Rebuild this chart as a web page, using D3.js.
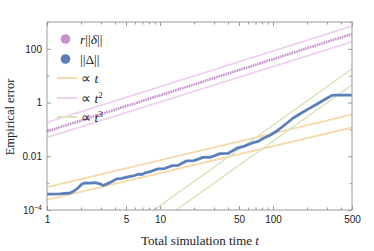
<!DOCTYPE html>
<html>
<head>
<meta charset="utf-8">
<script src="https://cdn.jsdelivr.net/npm/d3@7"></script>
<style>
  body { margin: 0; background: #fff; }
  svg { display: block; }
  .tick text { font-family: "Liberation Sans", Arial, sans-serif; font-size: 10px; fill: #222; }
  .serif { font-family: "Liberation Serif", "Times New Roman", serif; fill: #222; }
</style>
</head>
<body>
<svg width="374" height="251"></svg>
<script>
// total simulation time t and the two measured errors
const blueT = [1, 1.3, 1.6, 1.75, 1.88, 2.04, 2.2, 2.4, 2.65, 2.94, 3.13, 3.4, 3.76, 4.16, 4.6,
  5.21, 5.8, 6.39, 6.9, 7.37, 8.2, 9.6, 11, 12.8, 14.5, 17.3, 20, 24, 28, 34, 40, 48, 56,
  66.5, 74, 81.6, 95, 108, 125, 150, 180, 212, 250, 300, 333, 360, 500];
const blueErr = [3.9e-4, 4.0e-4, 4.3e-4, 5.2e-4, 6.6e-4, 9.3e-4, 1.02e-3, 1.0e-3, 1.04e-3, 9.4e-4,
  8.2e-4, 9.4e-4, 1.15e-3, 1.45e-3, 1.5e-3, 1.7e-3, 1.85e-3, 2.15e-3, 2.1e-3, 2.4e-3, 2.7e-3,
  3.4e-3, 3.5e-3, 4.5e-3, 4.6e-3, 6.8e-3, 6.9e-3, 9.1e-3, 9.2e-3, 0.0125, 0.0128, 0.020, 0.024,
  0.032, 0.036, 0.046, 0.062, 0.087, 0.14, 0.26, 0.42, 0.62, 0.93, 1.45, 1.85, 1.9, 1.9];

const pinkT = [1, 1.5, 2, 3, 4, 5, 6, 8, 10, 13, 16, 20, 25, 30, 40, 50, 65, 80, 100, 130,
  160, 200, 250, 300, 400, 500];
const pinkErr = [0.084, 0.148, 0.212, 0.372, 0.54, 0.74, 0.93, 1.39, 1.86, 2.67, 3.49, 4.76,
  6.35, 8.25, 12.0, 16.4, 23.0, 30.8, 41.0, 59.2, 77.0, 106, 141, 182, 265, 360];

// power-law guides, values at t = 1 and t = 500
const guideT = [1, 500];
const orangeGuides = [[7.1e-4, 0.355], [2.36e-4, 0.118]];
const pinkGuides = [[0.182, 708], [0.050, 183]];
const greenGuides = [[1.44e-7, 18], [3.7e-8, 4.6]];

const xMajor = [1, 5, 10, 50, 100, 500];
const xMinor = [2, 3, 4, 6, 7, 8, 9, 20, 30, 40, 60, 70, 80, 90, 200, 300, 400];
const yMajor = [1e-4, 1e-2, 1, 100];
const yMinor = [1e-3, 0.1, 10, 1000];

const width = 374, height = 251;
const margin = { top: 22, right: 22, bottom: 41, left: 47 };

const svg = d3.select('svg');

const x = d3.scaleLog().domain([1, 500]).range([margin.left, width - margin.right]);
const y = d3.scaleLog().domain([1e-4, 1e3]).range([height - margin.bottom, margin.top]);

svg.append('defs').append('clipPath').attr('id', 'clip')
  .append('rect')
  .attr('x', margin.left).attr('y', margin.top)
  .attr('width', width - margin.left - margin.right)
  .attr('height', height - margin.top - margin.bottom);

const line = d3.line().x(d => x(d[0])).y(d => y(d[1]));
const plot = svg.append('g').attr('clip-path', 'url(#clip)');

const orange = '#f6d9a9', lilac = '#f0d0f0', green = '#d9e5bf';

// guide lines
const guides = [
  [orangeGuides, orange, 1.8],
  [pinkGuides, lilac, 1.8],
  [greenGuides, green, 1.5],
];
for (const [set, color, w] of guides) {
  for (const vals of set) {
    plot.append('path')
      .attr('d', line(guideT.map((t, i) => [t, vals[i]])))
      .attr('fill', 'none')
      .attr('stroke', color)
      .attr('stroke-width', w);
  }
}

// r||δ|| series
plot.append('path')
  .attr('d', line(pinkT.map((t, i) => [t, pinkErr[i]])))
  .attr('fill', 'none')
  .attr('stroke', '#c98fd0')
  .attr('stroke-width', 2.6)
  .attr('stroke-dasharray', '1.6 0.8');

// ||Δ|| series
plot.append('path')
  .attr('d', line(blueT.map((t, i) => [t, blueErr[i]])))
  .attr('fill', 'none')
  .attr('stroke', '#5a7fbb')
  .attr('stroke-width', 2.8)
  .attr('stroke-linejoin', 'round');

// frame
svg.append('rect')
  .attr('x', margin.left).attr('y', margin.top)
  .attr('width', width - margin.left - margin.right)
  .attr('height', height - margin.top - margin.bottom)
  .attr('fill', 'none')
  .attr('stroke', '#9a9a9a')
  .attr('stroke-width', 1);

const bottom = height - margin.bottom, right = width - margin.right;

function styleAxis(g) {
  g.select('.domain').remove();
  g.selectAll('.tick line').attr('stroke', '#9a9a9a');
}

// x axes (bottom labelled, top mirrored)
svg.append('g').attr('transform', `translate(0,${bottom})`)
  .call(d3.axisBottom(x).tickValues(xMajor).tickFormat(d3.format('d')).tickSize(-4).tickPadding(6))
  .call(styleAxis);
svg.append('g').attr('transform', `translate(0,${bottom})`)
  .call(d3.axisBottom(x).tickValues(xMinor).tickFormat('').tickSize(-2.5))
  .call(styleAxis);
svg.append('g').attr('transform', `translate(0,${margin.top})`)
  .call(d3.axisTop(x).tickValues(xMajor).tickFormat('').tickSize(-4))
  .call(styleAxis);
svg.append('g').attr('transform', `translate(0,${margin.top})`)
  .call(d3.axisTop(x).tickValues(xMinor).tickFormat('').tickSize(-2.5))
  .call(styleAxis);

// y axes
const yAxis = svg.append('g').attr('transform', `translate(${margin.left},0)`)
  .call(d3.axisLeft(y).tickValues(yMajor).tickFormat(d => d === 1e-4 ? '' : (d >= 1 ? d3.format('d')(d) : d3.format('.2f')(d))).tickSize(-4).tickPadding(5))
  .call(styleAxis);
yAxis.selectAll('.tick').filter(d => d === 1e-4).select('text')
  .call(t => {
    t.append('tspan').text('10');
    t.append('tspan').text('−4').attr('dy', '-0.5em').attr('font-size', '7px');
  });
svg.append('g').attr('transform', `translate(${margin.left},0)`)
  .call(d3.axisLeft(y).tickValues(yMinor).tickFormat('').tickSize(-2.5))
  .call(styleAxis);
svg.append('g').attr('transform', `translate(${right},0)`)
  .call(d3.axisRight(y).tickValues(yMajor).tickFormat('').tickSize(-4))
  .call(styleAxis);
svg.append('g').attr('transform', `translate(${right},0)`)
  .call(d3.axisRight(y).tickValues(yMinor).tickFormat('').tickSize(-2.5))
  .call(styleAxis);

// axis titles
svg.append('text').attr('class', 'serif')
  .attr('x', 200).attr('y', 245)
  .attr('text-anchor', 'middle').attr('font-size', 13)
  .call(t => {
    t.append('tspan').text('Total simulation time ');
    t.append('tspan').text('t').attr('font-style', 'italic');
  });
svg.append('text').attr('class', 'serif')
  .attr('transform', 'translate(14,117) rotate(-90)')
  .attr('text-anchor', 'middle').attr('font-size', 12.5)
  .text('Empirical error');

// legend
const legend = svg.append('g').attr('class', 'serif').attr('font-size', 13.5);
const dots = [['#c98fd0', 39], ['#5a7fbb', 59]];
dots.forEach(([c, cy]) => {
  legend.append('circle').attr('cx', 65.5).attr('cy', cy).attr('r', 4.8).attr('fill', c);
});
const t1 = legend.append('text').attr('x', 80).attr('y', 44);
t1.append('tspan').text('r').attr('font-style', 'italic');
t1.append('tspan').text('||');
t1.append('tspan').text('δ').attr('font-style', 'italic');
t1.append('tspan').text('||');
legend.append('text').attr('x', 80).attr('y', 64).text('||Δ||');

const legLines = [[orange, 78, ''], [lilac, 98, '2'], [green, 117, '3']];
legLines.forEach(([c, ly, p]) => {
  legend.append('line').attr('x1', 57).attr('x2', 77).attr('y1', ly).attr('y2', ly)
    .attr('stroke', c).attr('stroke-width', 2);
  const tx = legend.append('text').attr('x', 81).attr('y', ly + 4.5);
  tx.append('tspan').text('∝ ');
  tx.append('tspan').text('t').attr('font-style', 'italic');
  if (p) tx.append('tspan').text(p).attr('dy', '-0.45em').attr('font-size', 9);
});
</script>
</body>
</html>
